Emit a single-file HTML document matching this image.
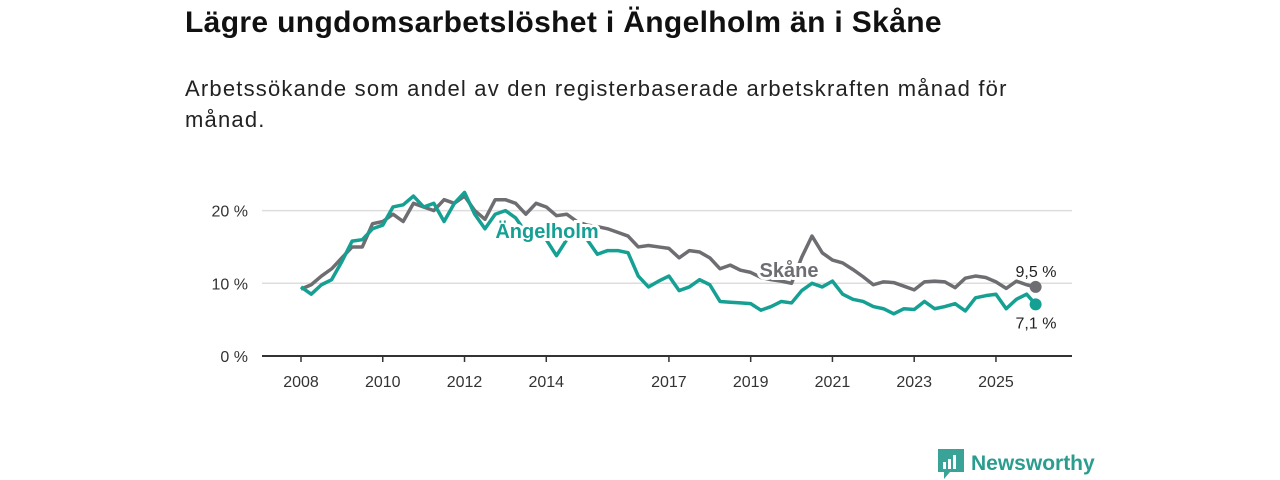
<!DOCTYPE html>
<html><head><meta charset="utf-8"><style>
body{margin:0;width:1280px;height:480px;background:#fff;font-family:"Liberation Sans","DejaVu Sans",sans-serif;overflow:hidden;position:relative}
h1{position:absolute;left:185px;top:6px;margin:0;font-size:30px;font-weight:bold;color:#111;letter-spacing:0.35px}
.sub{position:absolute;left:185px;top:73px;width:900px;font-size:22px;line-height:31px;color:#222;letter-spacing:1.2px}
.logo{position:absolute;left:938px;top:449px;display:flex;align-items:center;gap:7px;color:#2a9d8f;font-weight:bold;font-size:21px}
</style></head><body>
<h1>Lägre ungdomsarbetslöshet i Ängelholm än i Skåne</h1>
<div class="sub">Arbetssökande som andel av den registerbaserade arbetskraften månad för<br>månad.</div>
<svg id="chart" width="1280" height="480" style="position:absolute;left:0;top:0"></svg>
<div class="logo"><svg width="26" height="30" viewBox="0 0 26 30"><path d="M0 0H26V23H12L6 30V23H0Z" fill="#3aa398"/><rect x="5" y="13" width="3" height="7" fill="#fff"/><rect x="10" y="10" width="3" height="10" fill="#fff"/><rect x="15" y="6" width="3" height="14" fill="#fff"/></svg><span>Newsworthy</span></div>
<script>
const dates=[2008,2008.25,2008.5,2008.75,2009,2009.25,2009.5,2009.75,2010,2010.25,2010.5,2010.75,2011,2011.25,2011.5,2011.75,2012,2012.25,2012.5,2012.75,2013,2013.25,2013.5,2013.75,2014,2014.25,2014.5,2014.75,2015,2015.25,2015.5,2015.75,2016,2016.25,2016.5,2016.75,2017,2017.25,2017.5,2017.75,2018,2018.25,2018.5,2018.75,2019,2019.25,2019.5,2019.75,2020,2020.25,2020.5,2020.75,2021,2021.25,2021.5,2021.75,2022,2022.25,2022.5,2022.75,2023,2023.25,2023.5,2023.75,2024,2024.25,2024.5,2024.75,2025,2025.25,2025.5,2025.75,2025.97];
const skane=[9.2,9.8,11,12,13.5,15,15,18.2,18.5,19.5,18.5,21,20.5,20,21.5,21,22,20,18.8,21.5,21.5,21,19.5,21,20.5,19.3,19.5,18.5,18,17.8,17.5,17,16.5,15,15.2,15,14.8,13.5,14.5,14.3,13.5,12,12.5,11.8,11.5,10.8,10.5,10.3,10,13.6,16.5,14.2,13.2,12.8,11.9,10.9,9.8,10.2,10.1,9.6,9.1,10.2,10.3,10.2,9.4,10.7,11,10.8,10.2,9.3,10.3,9.8,9.5];
const angel=[9.5,8.5,9.8,10.5,13,15.8,16,17.5,18,20.5,20.8,22,20.5,21,18.5,21,22.5,19.5,17.5,19.5,20,19,17,17,16,13.8,16,17,16,14,14.5,14.5,14.2,11,9.5,10.3,11,9,9.5,10.5,9.8,7.5,7.4,7.3,7.2,6.3,6.8,7.5,7.3,9,10,9.5,10.3,8.5,7.8,7.5,6.8,6.5,5.8,6.5,6.4,7.5,6.5,6.8,7.2,6.2,8,8.3,8.5,6.5,7.8,8.5,7.1];
const yTicks=[0,10,20];
const xTicks=[2008,2010,2012,2014,2017,2019,2021,2023,2025];
const NS='http://www.w3.org/2000/svg',svg=document.getElementById('chart');
const X=t=>301+(t-2008)*40.88, Y=v=>356-v*7.27;
function el(tag,at,txt){const e=document.createElementNS(NS,tag);for(const k in at)e.setAttribute(k,at[k]);if(txt!=null)e.textContent=txt;svg.appendChild(e);return e;}
yTicks.forEach(v=>{
 const g=el('line',{x1:262,x2:1072,y1:Y(v),y2:Y(v),stroke:v==0?'#333':'#ddd','stroke-width':v==0?2:1.5});
 
 
 const t=el('text',{x:248,y:Y(v)+6,'text-anchor':'end','font-size':16,fill:'#333'},v+' %');
 
 
});
xTicks.forEach(yr=>{
 const l=el('line',{x1:X(yr),x2:X(yr),y1:356,y2:362,stroke:'#333','stroke-width':1.5});
 
 
 const t=el('text',{x:X(yr),y:387,'text-anchor':'middle','font-size':16,fill:'#333'},yr);
 
 
});
function line(vals,col,name){
 const p=el('polyline',{points:vals.map((v,i)=>X(dates[i])+','+Y(v)).join(' '),fill:'none',stroke:col,'stroke-width':3.5,'stroke-linejoin':'round'});
 
 
 const n=vals.length-1;
 const c=el('circle',{cx:X(dates[n]),cy:Y(vals[n]),r:6,fill:col});
 
 
}
line(skane,'#6e6d72','skane-line');
line(angel,'#15a093','angelholm-line');
const n=dates.length-1;
const lab1=el('text',{x:1036,y:Y(skane[n])-10,'text-anchor':'middle','font-size':16,fill:'#222'},String(skane[n]).replace('.',',')+' %');


const lab2=el('text',{x:1036,y:Y(angel[n])+24,'text-anchor':'middle','font-size':16,fill:'#222'},String(angel[n]).replace('.',',')+' %');


const s1=el('text',{x:547,y:238,'text-anchor':'middle','font-size':20,'font-weight':'bold',fill:'#15a093',stroke:'#fff','stroke-width':6,'paint-order':'stroke'},'Ängelholm');


const s2=el('text',{x:789,y:277,'text-anchor':'middle','font-size':20,'font-weight':'bold',fill:'#6e6d72',stroke:'#fff','stroke-width':6,'paint-order':'stroke'},'Skåne');


</script>
</body></html>
